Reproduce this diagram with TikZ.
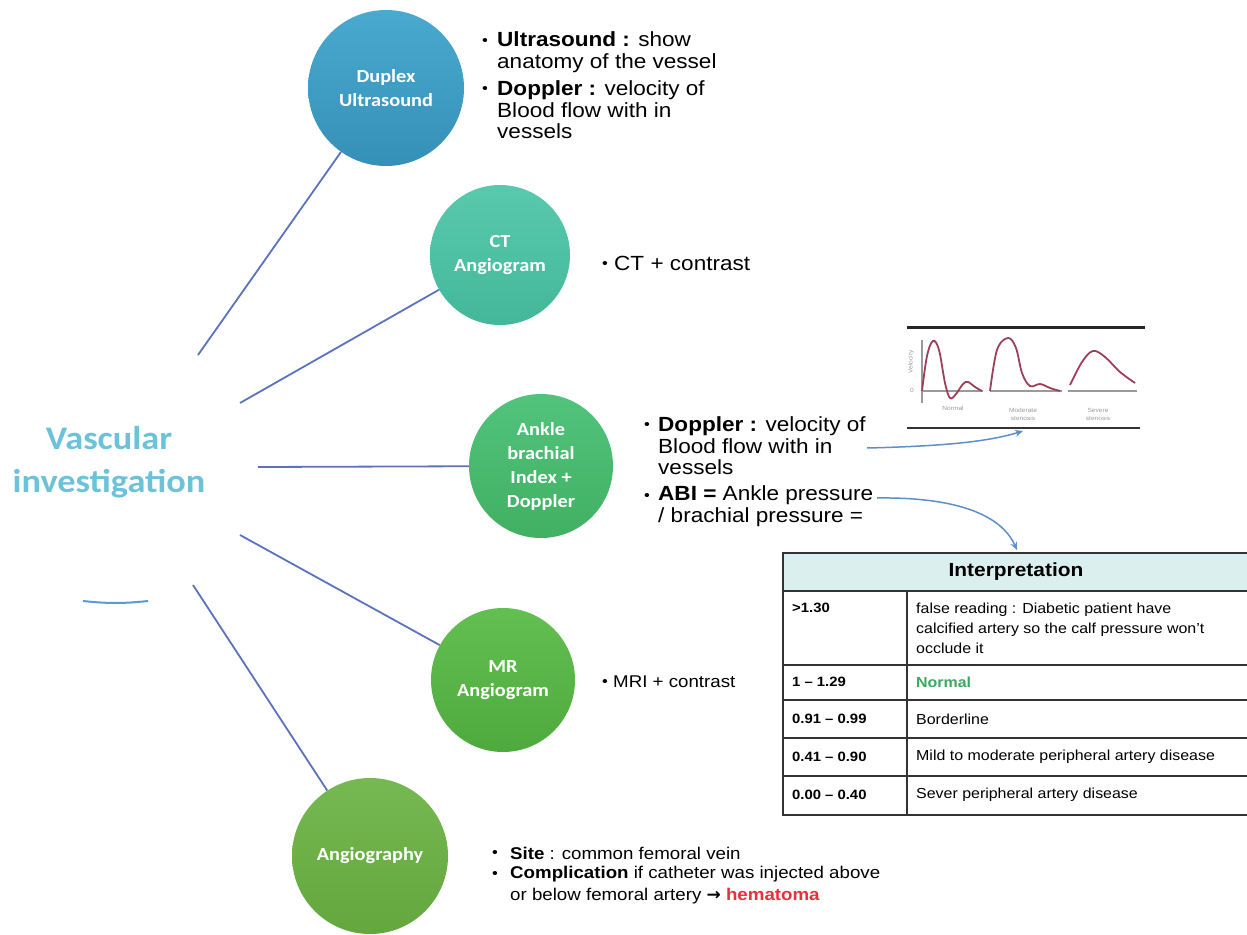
\documentclass[tikz,border=0pt]{standalone}
\usepackage{fontspec}
\setmainfont{Liberation Sans}[FakeStretch=1.1]
\newfontfamily\calfont{Carlito}[FakeStretch=1.1]
\newfontfamily\dejavu{DejaVu Sans}
\usetikzlibrary{arrows.meta}
\definecolor{linecol}{HTML}{5B72BC}
\definecolor{titlecol}{HTML}{6CC2D9}
\definecolor{arrcol}{HTML}{5D8FCA}
\definecolor{arccol}{HTML}{5A9AD4}
\definecolor{dupT}{HTML}{4AA9CE}
\definecolor{dupB}{HTML}{3590B8}
\definecolor{ctT}{HTML}{58C9AC}
\definecolor{ctB}{HTML}{44B79A}
\definecolor{abT}{HTML}{52C37C}
\definecolor{abB}{HTML}{41B062}
\definecolor{mrT}{HTML}{64BF52}
\definecolor{mrB}{HTML}{4EAA3D}
\definecolor{agT}{HTML}{76B851}
\definecolor{agB}{HTML}{63A73E}
\definecolor{hdrfill}{HTML}{DCEFEF}
\definecolor{tblline}{HTML}{333333}
\definecolor{normgreen}{HTML}{3AA860}
\definecolor{hemred}{HTML}{E8303A}
\definecolor{curvecol}{HTML}{9C4058}
\definecolor{axisgray}{HTML}{9A9A9A}
\begin{document}
\begin{tikzpicture}[x=1pt,y=-1pt,
  circ/.style={circle, inner sep=0pt, align=center, text=white,
    font=\calfont\bfseries\fontsize{18.5}{24}\selectfont},
  spoke/.style={draw=linecol, line width=1.8pt},
  txt/.style={anchor=west, inner sep=0pt, align=left,
    font=\fontsize{20.5}{21.5}\selectfont},
  smalltxt/.style={anchor=west, inner sep=0pt, align=left,
    font=\fontsize{17}{21.5}\selectfont},
  bul/.style={anchor=base west, inner sep=0pt, font=\fontsize{15}{16}\selectfont},
  tcell/.style={anchor=west, inner sep=0pt, align=left,
    font=\fontsize{14.5}{20}\selectfont},
  tline/.style={draw=tblline, line width=1.4pt},
  curve/.style={draw=curvecol, line width=1.8pt},
  glabel/.style={inner sep=0pt, align=center, text=axisgray,
    font=\fontsize{6}{8}\selectfont},
  arr/.style={draw=arrcol, line width=1.5pt, -{Stealth[length=8pt,width=7pt]}}
]
\useasboundingbox (0,0) rectangle (1247,934);

% title
\node[inner sep=0pt, align=center, text=titlecol,
  font=\calfont\bfseries\fontsize{33}{43}\selectfont] (vi) at (109,462)
  {Vascular\\investigation};
\draw[draw=arccol, line width=2pt] (83,601) to[bend right=6] (148,601);

% circles
\node[circ, minimum size=156pt, top color=dupT, bottom color=dupB] (dup) at (386,88) {Duplex\\Ultrasound};
\node[circ, minimum size=140pt, top color=ctT, bottom color=ctB] (ct) at (500,255) {CT\\Angiogram};
\node[circ, minimum size=144pt, top color=abT, bottom color=abB] (abi) at (541,466) {Ankle\\brachial\\Index +\\Doppler};
\node[circ, minimum size=144pt, top color=mrT, bottom color=mrB] (mr) at (503,680) {MR\\Angiogram};
\node[circ, minimum size=156pt, top color=agT, bottom color=agB] (ag) at (370,856) {Angiography};

% spokes
\coordinate (h1) at (198,355);
\coordinate (h2) at (240,403);
\coordinate (h3) at (258,467);
\coordinate (h4) at (240,535);
\coordinate (h5) at (193,585);
\draw[spoke] (h1) -- (dup);
\draw[spoke] (h2) -- (ct);
\draw[spoke] (h3) -- (abi);
\draw[spoke] (h4) -- (mr);
\draw[spoke] (h5) -- (ag);

% duplex text
\node[bul] (b1) at (482,45.5) {•};
\node[txt] (t1) at (497,52) {\textbf{Ultrasound :} show\\anatomy of the vessel};
\node[bul] (b2) at (482,93.5) {•};
\node[txt] (t2) at (497,110) {\textbf{Doppler :} velocity of\\Blood flow with in\\vessels};

% CT text
\node[bul] (b3) at (602,268.5) {•};
\node[txt] (t3) at (614,263) {CT + contrast};

% ankle text
\node[bul] (b4) at (644,429.5) {•};
\node[txt] (t4) at (658,446) {\textbf{Doppler :} velocity of\\Blood flow with in\\vessels};
\node[bul] (b5) at (644,500.5) {•};
\node[txt] (t5) at (658,506) {\textbf{ABI =} Ankle pressure\\/ brachial pressure =};

% MR text
\node[bul] (b6) at (602,686.5) {•};
\node[smalltxt] (t6) at (613,682) {MRI + contrast};

% angiography text
\node[bul] (b7) at (492,857.5) {•};
\node[smalltxt] (t7) at (510,853) {\textbf{Site} : common femoral vein};
\node[bul] (b8) at (492,878.5) {•};
\node[smalltxt] (t8) at (510,885) {\textbf{Complication} if catheter was injected above\\or below femoral artery {\dejavu\bfseries →} \textcolor{hemred}{\textbf{hematoma}}};

% velocity graph
\draw[draw=black!85, line width=3pt] (907,327) -- (1145,327);
\draw[draw=black!80, line width=2.5pt] (907,428) -- (1140,428);
\draw[draw=axisgray, line width=1.2pt] (922,340) -- (922,403);
\draw[draw=axisgray, line width=1.5pt] (922,391) -- (983,391);
\draw[draw=axisgray, line width=1.5pt] (990,391) -- (1062,391);
\draw[draw=axisgray, line width=1.5pt] (1068,391) -- (1137,391);
\node[glabel, rotate=90] (gv) at (911,362) {Velocity};
\node[glabel] (g0) at (912,390) {0};
\draw[curve] plot[smooth, tension=0.6] coordinates {(922,391) (927,356) (933,341) (939,350) (945,383) (950,398) (956,394) (963,384) (968,382) (975,387) (982,391)};
\draw[curve] plot[smooth, tension=0.6] coordinates {(990,391) (997,350) (1008,338) (1016,348) (1022,373) (1030,386) (1040,384) (1050,388) (1060,391)};
\draw[curve] plot[smooth, tension=0.6] coordinates {(1070,385) (1082,362) (1093,351) (1105,357) (1120,372) (1135,383)};
\node[glabel] (gn) at (953,408) {Normal};
\node[glabel] (gm) at (1023,414) {Moderate\\stenosis};
\node[glabel] (gs) at (1098,414) {Severe\\stenosis};
\coordinate (gbot) at (1023,431);

% table
\fill[hdrfill] (783,553) rectangle (1250,591);
\draw[tline] (783,553) -- (1250,553);
\draw[tline] (783,591) -- (1250,591);
\draw[tline] (783,665) -- (1250,665);
\draw[tline] (783,700) -- (1250,700);
\draw[tline] (783,738) -- (1250,738);
\draw[tline] (783,776) -- (1250,776);
\draw[draw=tblline, line width=2pt] (783,815) -- (1250,815);
\draw[draw=tblline, line width=2pt] (783,552) -- (783,816);
\draw[tline] (907,591) -- (907,815);
\coordinate (ttop) at (1017,550);
\node[inner sep=0pt, font=\bfseries\fontsize{19}{22}\selectfont] (interp) at (1016,572) {Interpretation};
\node[tcell, font=\bfseries\fontsize{13.5}{20}\selectfont] (c11) at (792,608) {>1.30};
\node[tcell] (c12) at (916,628) {false reading : Diabetic patient have\\calcified artery so the calf pressure won't\\occlude it};
\node[tcell, font=\bfseries\fontsize{13.5}{20}\selectfont] (c21) at (792,682) {1 – 1.29};
\node[tcell, text=normgreen, font=\bfseries\fontsize{14.5}{20}\selectfont] (c22) at (916,682) {Normal};
\node[tcell, font=\bfseries\fontsize{13.5}{20}\selectfont] (c31) at (792,719) {0.91 – 0.99};
\node[tcell] (c32) at (916,719) {Borderline};
\node[tcell, font=\bfseries\fontsize{13.5}{20}\selectfont] (c41) at (792,757) {0.41 – 0.90};
\node[tcell] (c42) at (916,757) {Mild to moderate peripheral artery disease};
\node[tcell, font=\bfseries\fontsize{13.5}{20}\selectfont] (c51) at (792,795) {0.00 – 0.40};
\node[tcell] (c52) at (916,795) {Sever peripheral artery disease};

% arrows
\coordinate (a1s) at (867,448);
\coordinate (a2s) at (877,498);
\draw[arr] (a1s) .. controls (950,446) and (990,441) .. (gbot);
\draw[arr] (a2s) .. controls (950,497) and (1000,512) .. (ttop);
\end{tikzpicture}
\end{document}
